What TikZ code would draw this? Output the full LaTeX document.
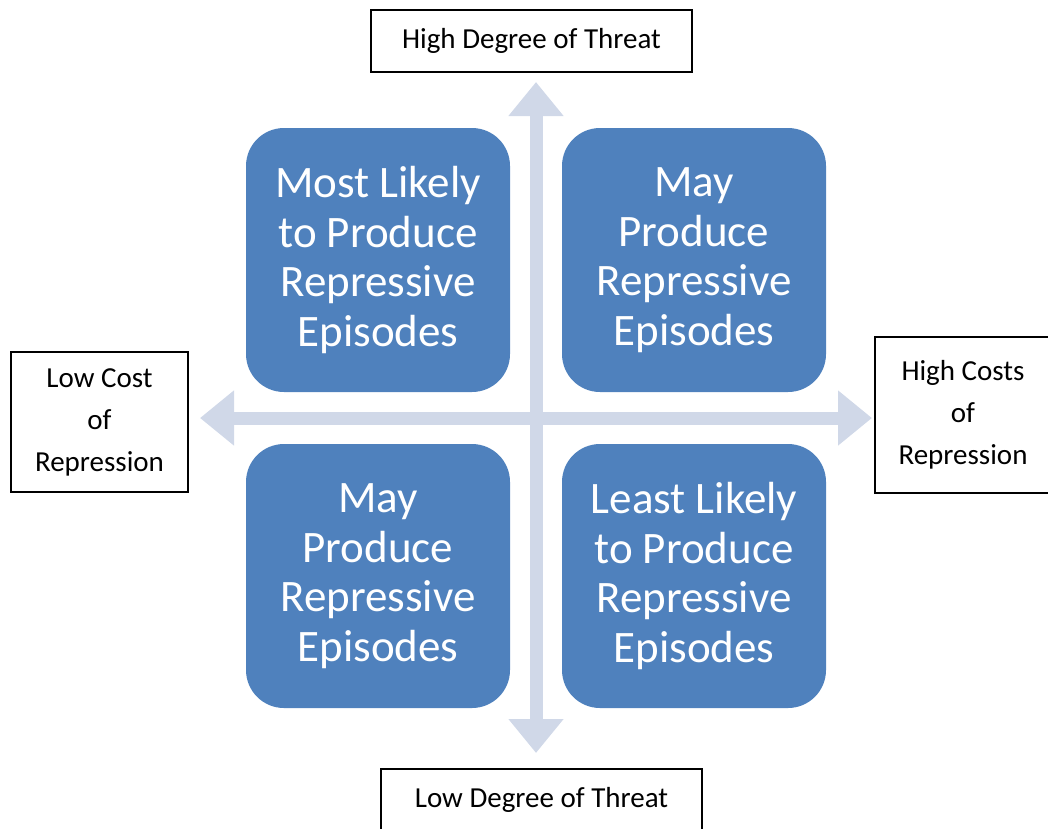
\documentclass[tikz,border=0pt]{standalone}
\usepackage{fontspec}
\setmainfont{Carlito}
\usetikzlibrary{positioning,arrows.meta}
\definecolor{quadblue}{HTML}{4F81BD}
\definecolor{crossgray}{HTML}{D0D8E8}

\begin{document}
\begin{tikzpicture}[x=1pt, y=-1pt, > = {Triangle[width=53pt,length=34pt]}]
    \tikzset{
      quad/.style={fill=quadblue, rounded corners=38pt, minimum width=264pt,
        minimum height=264pt, text=white, align=center, inner sep=0pt,
        font=\fontsize{45}{49.5}\selectfont},
      lab/.style={draw, line width=1.3pt, align=center, inner sep=0pt,
        font=\fontsize{29}{42}\selectfont},
      axis/.style={crossgray, line width=13pt},
    }
    \useasboundingbox (0,0) rectangle (1048,828);
    \node [quad] (tl) at (378,260) {Most Likely\\to Produce\\Repressive\\Episodes};
    \node [quad] (tr) at (694,260) {May\\Produce\\Repressive\\Episodes};
    \node [quad] (bl) at (378,576) {May\\Produce\\Repressive\\Episodes};
    \node [quad] (br) at (694,576) {Least Likely\\to Produce\\Repressive\\Episodes};
    \node [lab, minimum width=321pt, minimum height=62pt] (high) at (531.5,41) {High Degree of Threat};
    \node [lab, minimum width=321pt, minimum height=62pt] (low) at (541.5,800) {Low Degree of Threat};
    \node [lab, minimum width=177pt, minimum height=140pt] (cheap) at (99.5,422) {Low Cost\\of\\Repression};
    \node [lab, minimum width=176pt, minimum height=156pt] (costly) at (963,415) {High Costs\\of\\Repression};
    \coordinate (up) at (536,82);
    \coordinate (down) at (536,753);
    \coordinate (left) at (200,418);
    \coordinate (right) at (872,418);
    \draw [axis, <->] (left) -- (right);
    \draw [axis, <->] (up) -- (down);

  \end{tikzpicture}
\end{document}
